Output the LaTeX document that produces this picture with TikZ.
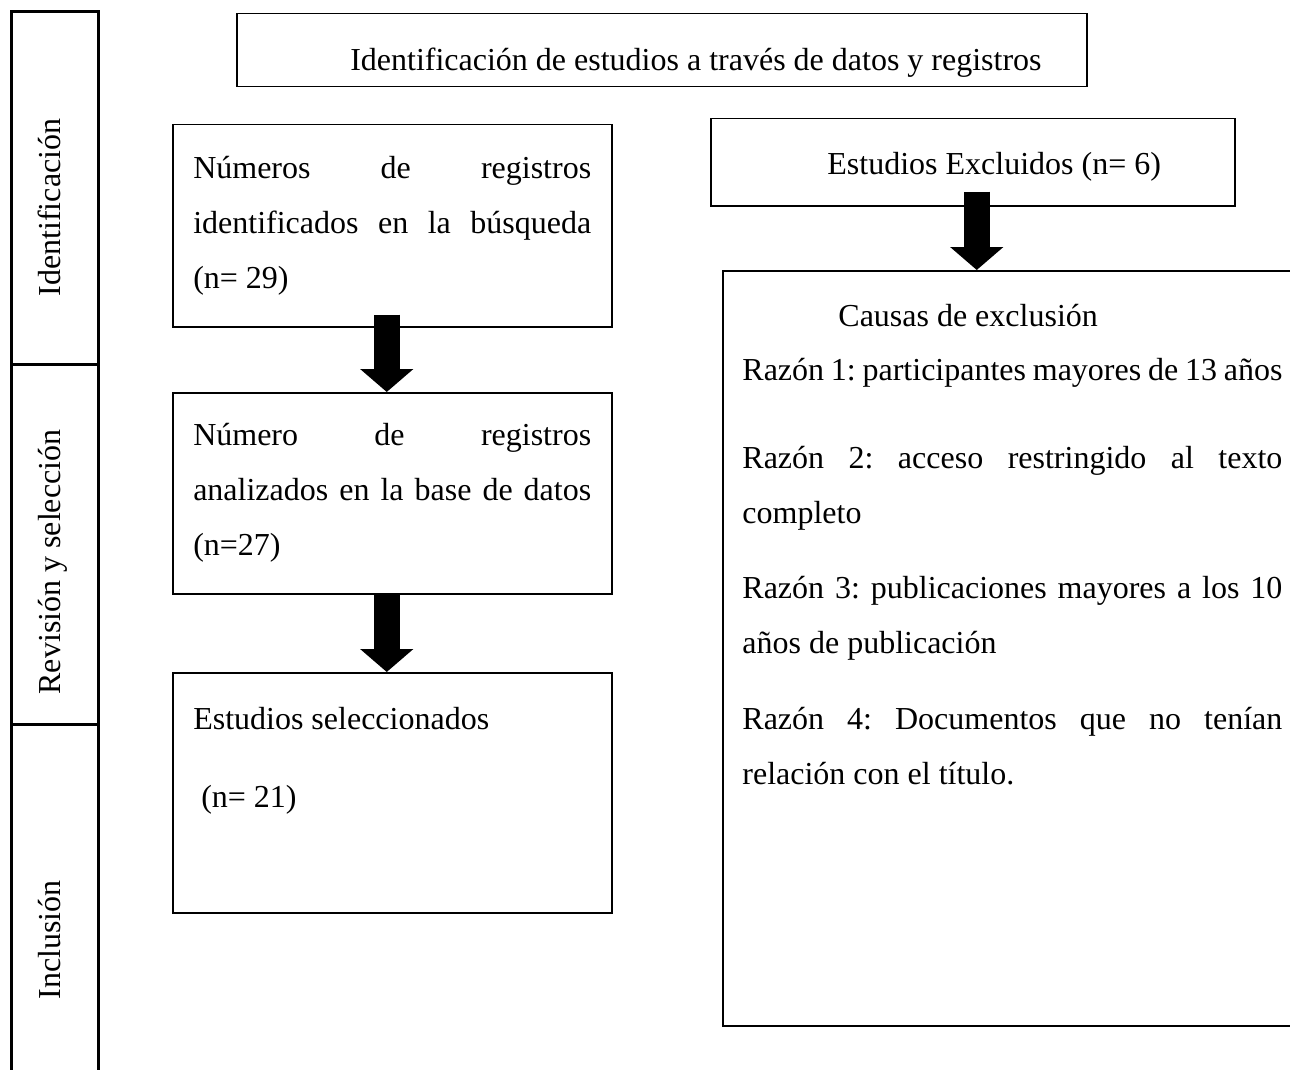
\documentclass[tikz,border=0pt]{standalone}
\usepackage{fontspec}
\setmainfont{Liberation Serif}
\usetikzlibrary{arrows.meta}
\frenchspacing

\begin{document}
\begin{tikzpicture}[x=0.5pt, y=-0.5pt, font=\fontsize{16}{27.5}\selectfont]
            \tikzstyle{box} = [draw, line width=0.75pt, inner sep=0pt, anchor=north west]
            \tikzstyle{side} = [draw, line width=1.5pt, inner sep=0pt, minimum width=43.5pt, anchor=north west]
            \tikzstyle{txt} = [anchor=base west, inner sep=0pt]
            \tikzstyle{para} = [box, text width=199pt, inner xsep=10.25pt, align=justify]
            \tikzstyle{bigarrow} = [line width=13pt, -{Triangle[width=26pt, length=11.5pt]}]

            \useasboundingbox (0,0) rectangle (1290,1070);
            \clip (0,0) rectangle (1290,1070);

            % Phases
            \node[side, minimum height=176.5pt] (fase1) at (10,10) {};
            \node[side, minimum height=180pt] (fase2) at (10,363) {};
            \node[side, minimum height=185pt] (fase3) at (10,723) {};
            \node[rotate=90, anchor=base, inner sep=0pt] (lab1) at (61,207.5) {Identificación};
            \node[rotate=90, anchor=base, inner sep=0pt] (lab2) at (61,562) {Revisión y selección};
            \node[rotate=90, anchor=base, inner sep=0pt] (lab3) at (61,940) {Inclusión};

            % Nodes
            \node[box, minimum width=425pt, minimum height=36.5pt] (titulo) at (236,13) {};
            \node[txt, anchor=base east] (titulotxt) at (1042,71) {Identificación de estudios a través de datos y registros};

            \node[para, minimum height=101pt] (busq) at (172,124)
                {Números de registros\linebreak identificados en la búsqueda\linebreak (n= 29)};
            \node[para, minimum height=100.5pt] (anal) at (172,392)
                {Número de registros\linebreak analizados en la base de datos\linebreak (n=27)};
            \node[para, minimum height=120pt] (selec) at (172,672)
                {Estudios seleccionados\\[11.5pt]\hspace*{4pt}(n= 21)\\[7.5pt]\mbox{}};

            \node[box, minimum width=262pt, minimum height=43.5pt] (excl) at (710,118) {};
            \node[txt] (excltxt) at (827,175) {Estudios Excluidos (n= 6)};

            \node[box, minimum width=300pt, minimum height=377.5pt] (causas) at (722,270) {};
            \node[txt, text width=270pt, align=justify] (causastxt) at (742,326)
                {\hspace*{48pt}Causas de exclusión\\[-0.5pt]
                 Razón 1: participantes mayores de 13 años\\[16.5pt]
                 Razón 2: acceso restringido al texto\linebreak completo\\[10pt]
                 Razón 3: publicaciones mayores a los 10\linebreak años de publicación\\[10.5pt]
                 Razón 4: Documentos que no tenían\linebreak relación con el título.};

            % Edges
            \draw[bigarrow] ([shift={(-5.5,-13)}]busq.south) -- ([shift={(-5.5,0)}]anal.north);
            \draw[bigarrow] ([shift={(-5.5,0)}]anal.south) -- ([shift={(-5.5,0)}]selec.north);
            \draw[bigarrow] ([shift={(4,-15)}]excl.south) -- ([shift={(4,0)}]excl.south |- causas.north);

        \end{tikzpicture}
\end{document}
